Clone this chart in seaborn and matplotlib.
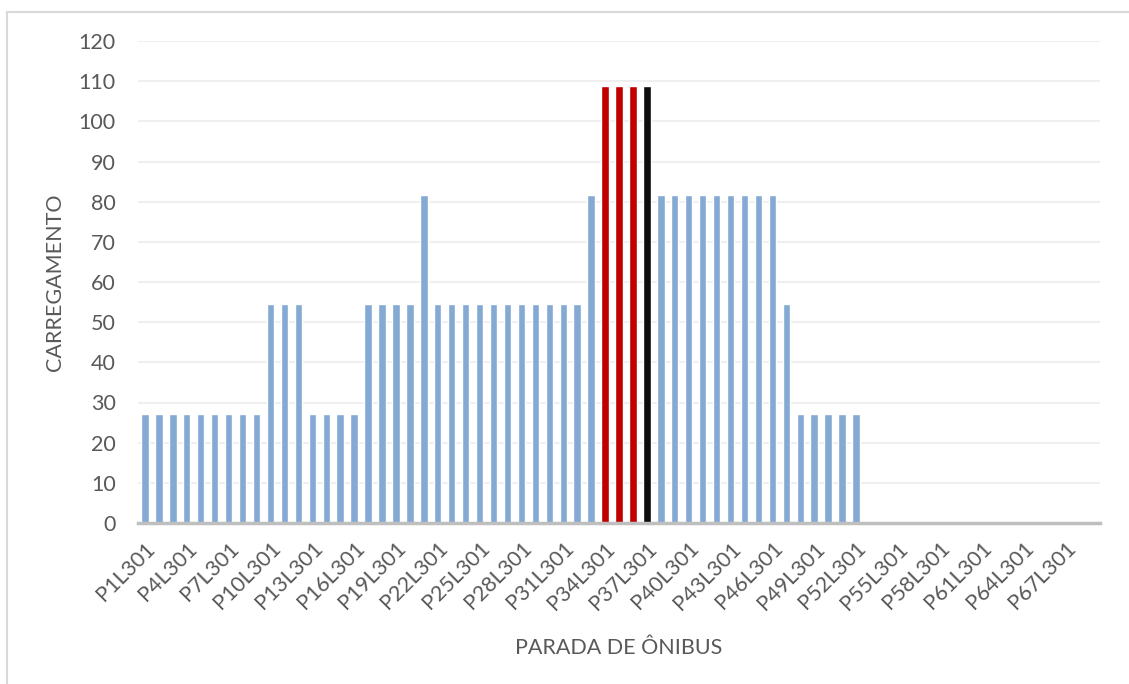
import matplotlib
matplotlib.use("Agg")
import matplotlib.pyplot as plt
import seaborn as sns
import pandas as pd
from matplotlib.patches import Rectangle

# Bus stops along line 301 and the load at each stop
stops = [f"P{i}L301" for i in range(1, 70)]
load = (
    [27.2] * 9 + [54.4] * 3 + [27.2] * 4 + [54.4] * 4 + [81.6]
    + [54.4] * 11 + [81.6] + [108.8] * 4 + [81.6] * 9 + [54.4]
    + [27.2] * 5 + [0] * 17
)
# Stops highlighted in the chart: three critical (red) and one peak (black)
red_stops = ["P34L301", "P35L301", "P36L301"]
black_stops = ["P37L301"]

BLUE = "#84A9D3"
RED = "#C00000"
BLACK = "#0D0D0D"
TEXT = "#595959"
FS = 15.5

colors = {s: (RED if s in red_stops else BLACK if s in black_stops else BLUE) for s in stops}
df = pd.DataFrame({"parada": stops, "carregamento": load})

sns.set_theme(style="white")
plt.rcParams["font.family"] = ["Lato", "DejaVu Sans"]

fig = plt.figure(figsize=(11.29, 6.84), dpi=100)
ax = fig.add_axes([138 / 1129, 1 - 523 / 684, (1100 - 138) / 1129, (523 - 41) / 684])

sns.barplot(data=df, x="parada", y="carregamento", hue="parada", palette=colors,
            width=0.53, legend=False, ax=ax, saturation=1)

ax.set_xlim(-0.5, len(stops) - 0.5)
ax.set_ylim(0, 120)
ax.set_yticks(range(0, 121, 10))
ax.yaxis.grid(True, color="#EFEFEF", linewidth=1.5)
ax.set_axisbelow(True)
for side in ["top", "right", "left"]:
    ax.spines[side].set_visible(False)
ax.spines["bottom"].set_color("#BFBFBF")
ax.spines["bottom"].set_linewidth(2.5)

tick_pos = list(range(0, len(stops), 3))
ax.set_xticks(tick_pos)
ax.set_xticklabels([stops[i] for i in tick_pos], rotation=45, ha="right",
                   rotation_mode="anchor", fontsize=FS, color=TEXT)
ax.tick_params(axis="x", length=0, pad=11)
ax.tick_params(axis="y", length=0, pad=16, labelsize=FS, labelcolor=TEXT)

ax.set_xlabel("PARADA DE ÔNIBUS", fontsize=FS, color=TEXT, labelpad=18)
ax.set_ylabel("CARREGAMENTO", fontsize=FS, color=TEXT, labelpad=10)

# Chart-area frame
fig.patches.append(Rectangle((7 / 1129, -0.1), 1.2, 1 - 12 / 684 + 0.1,
                             transform=fig.transFigure, fill=False,
                             edgecolor="#D9D9D9", linewidth=1.5))

fig.savefig("out.png", dpi=100)
